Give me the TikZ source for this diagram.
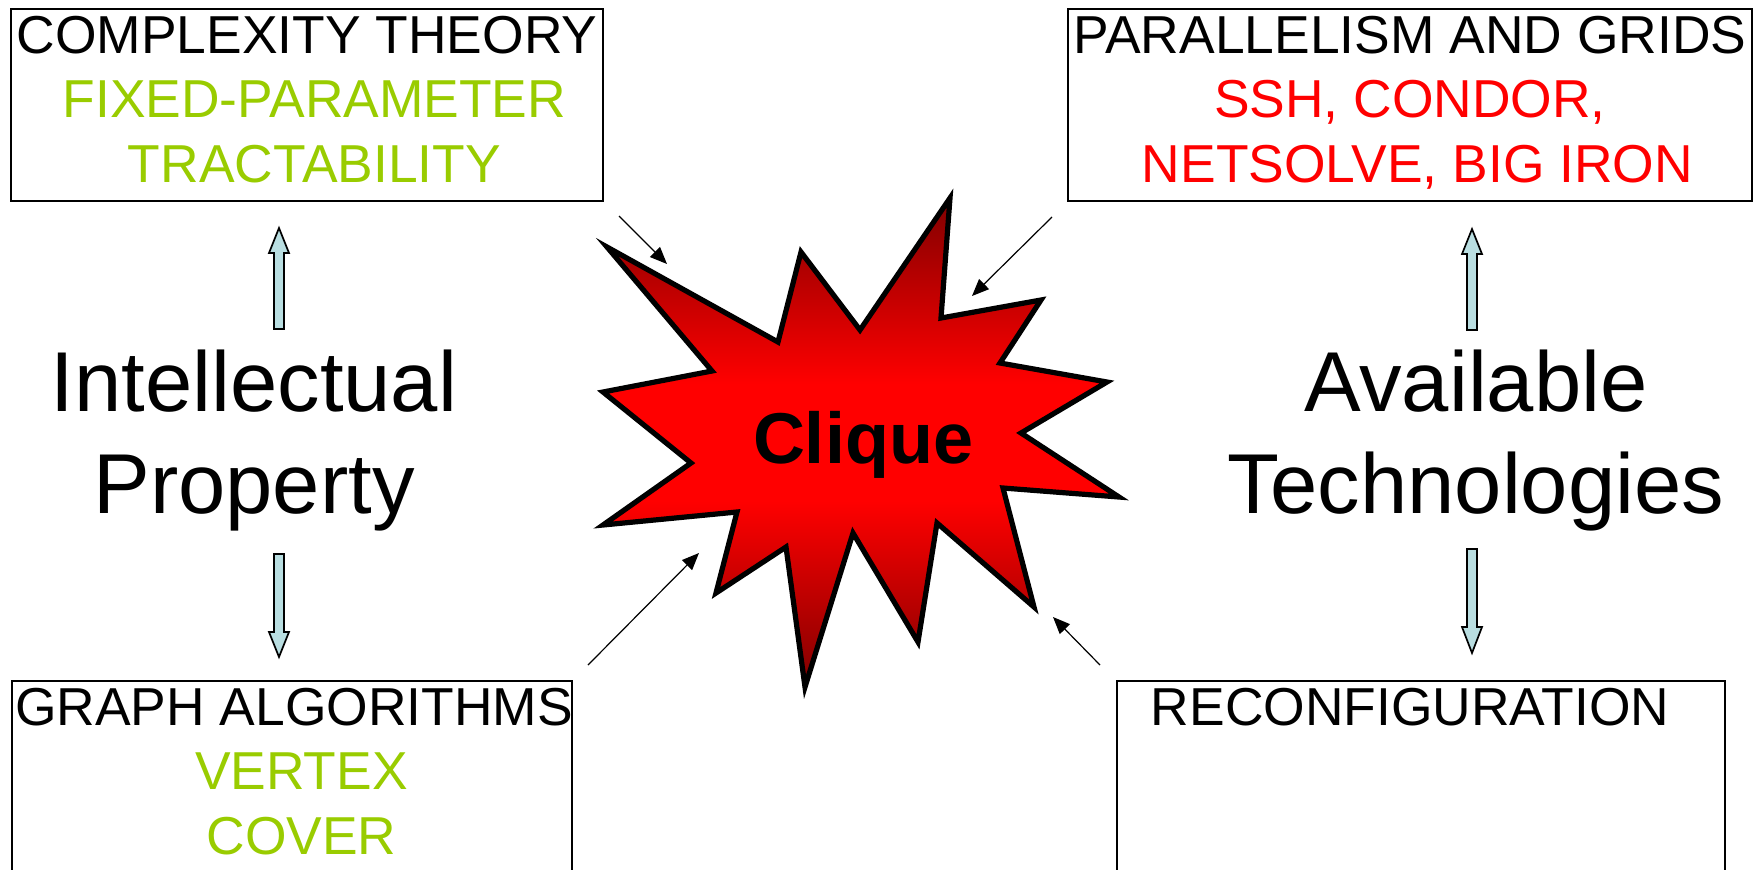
\documentclass[tikz,border=0pt]{standalone}
\usepackage{fontspec}
\setmainfont{Liberation Sans}
\usetikzlibrary{arrows.meta}
\definecolor{fpgreen}{RGB}{153,204,0}
\definecolor{blockblue}{RGB}{185,222,225}
\definecolor{burstdark}{RGB}{128,0,0}
\pgfdeclareverticalshading{burstshade}{100bp}{color(0bp)=(burstdark); color(25bp)=(burstdark); color(44bp)=(red); color(56bp)=(red); color(75bp)=(burstdark); color(100bp)=(burstdark)}
\begin{document}
\begin{tikzpicture}[x=0.5pt,y=-0.5pt,
  box/.style={draw=black, line width=1pt, inner sep=0pt},
  boxtext/.style={inner sep=0pt, align=center, anchor=north, font=\fontsize{26.7pt}{32.25pt}\selectfont},
  bigtext/.style={inner sep=0pt, align=center, anchor=north, font=\fontsize{42.5pt}{51pt}\selectfont},
  thinarrow/.style={-{Triangle[length=8.5pt,width=7pt]}, line width=0.6pt},
  blockarrow/.style={draw=black, fill=blockblue, line width=0.85pt, line join=miter},
  burst/.style={draw=black, line width=2.6pt, line join=miter, shading=burstshade},
]
\useasboundingbox (0,0) rectangle (1758,869);

% boxes
\node[box, minimum width=296pt, minimum height=96pt] (tlbox) at (307,105) {};
\node[box, minimum width=342pt, minimum height=96pt] (trbox) at (1410,105) {};
\node[box, minimum width=280pt, minimum height=109pt] (blbox) at (292,790) {};
\node[box, minimum width=304pt, minimum height=109pt] (brbox) at (1421,790) {};

% box texts
\node[boxtext] (tltext) at (307,15.4) {COMPLEXITY THEORY\\
  \textcolor{fpgreen}{\hspace*{.278em}FIXED-PARAMETER}\\
  \textcolor{fpgreen}{\hspace*{.278em}TRACTABILITY}};
\node[boxtext] (trtext) at (1410,15.4) {PARALLELISM AND GRIDS\\
  \textcolor{red}{SSH, CONDOR,}\\
  \textcolor{red}{\hspace*{.278em}NETSOLVE, BIG IRON}};
\node[boxtext] (bltext) at (294,687.4) {GRAPH ALGORITHMS\\
  \textcolor{fpgreen}{\hspace*{.278em}VERTEX}\\
  \textcolor{fpgreen}{\hspace*{.278em}COVER}};
\node[boxtext] (brtext) at (1410,687.4) {RECONFIGURATION};

% big side texts
\node[bigtext] (ip) at (254,349.1) {Intellectual\\Property};
\node[bigtext] (at) at (1476,349.1) {Available\\Technologies};

% burst
\path[burst] (607,247) -- (778,342) -- (801,252) -- (860,330) -- (950,198)
  -- (941,318) -- (1041,300) -- (1000,363) -- (1107,382) -- (1021,433)
  -- (1119,497) -- (1003,488) -- (1034,607) -- (937,523) -- (918,642)
  -- (853,533) -- (805,687) -- (786,547) -- (716,593) -- (737,512)
  -- (603,525) -- (691,463) -- (603,392) -- (712,371) -- cycle;
\node[inner sep=0pt, anchor=base, font=\bfseries\fontsize{36pt}{40pt}\selectfont] (clique) at (863,463) {Clique};

% thin arrows toward the burst
\coordinate (a1s) at (619,216); \coordinate (a1e) at (667,264);
\coordinate (a2s) at (1052,217); \coordinate (a2e) at (972,296);
\coordinate (a3s) at (588,665); \coordinate (a3e) at (699,553);
\coordinate (a4s) at (1100,665); \coordinate (a4e) at (1053,617);
\draw[thinarrow] (a1s) -- (a1e);
\draw[thinarrow] (a2s) -- (a2e);
\draw[thinarrow] (a3s) -- (a3e);
\draw[thinarrow] (a4s) -- (a4e);

% block arrows
\path[blockarrow] (279,228) -- (289,253) -- (284,253) -- (284,329) -- (274,329) -- (274,253) -- (269,253) -- cycle;
\path[blockarrow] (279,657) -- (289,632) -- (284,632) -- (284,554) -- (274,554) -- (274,632) -- (269,632) -- cycle;
\path[blockarrow] (1472,229) -- (1482,254) -- (1477,254) -- (1477,330) -- (1467,330) -- (1467,254) -- (1462,254) -- cycle;
\path[blockarrow] (1472,653) -- (1482,627) -- (1477,627) -- (1477,549) -- (1467,549) -- (1467,627) -- (1462,627) -- cycle;
\end{tikzpicture}
\end{document}
